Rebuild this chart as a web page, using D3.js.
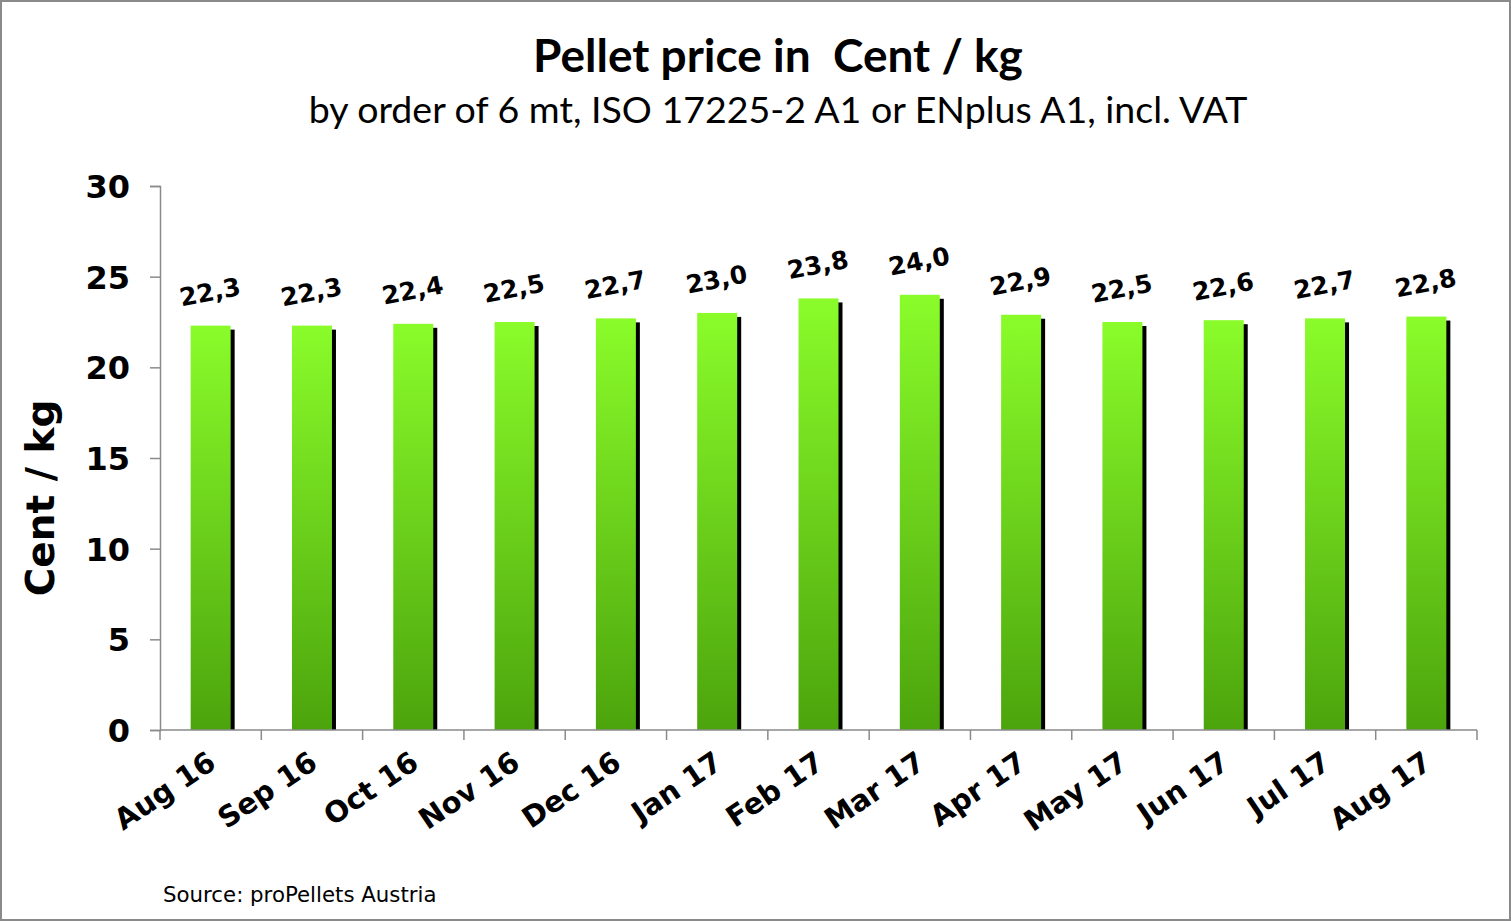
<!DOCTYPE html>
<html>
<head>
<meta charset="utf-8">
<script src="https://cdn.jsdelivr.net/npm/d3@7"></script>
<style>
  body { margin: 0; background: #fff; }
  svg { display: block; }
</style>
</head>
<body>
<main></main>
<script>
var w = 1511;
var h = 921;

// chart data
var months = ["Aug 16", "Sep 16", "Oct 16", "Nov 16", "Dec 16", "Jan 17", "Feb 17",
  "Mar 17", "Apr 17", "May 17", "Jun 17", "Jul 17", "Aug 17"];
var prices = [22.3, 22.3, 22.4, 22.5, 22.7, 23.0, 23.8, 24.0, 22.9, 22.5, 22.6, 22.7, 22.8];
var yTicks = [0, 5, 10, 15, 20, 25, 30];

var plotLeft = 160, plotRight = 1477, plotTop = 186, plotBottom = 730;

var svg = d3.select("main").append("svg").attr("width", w).attr("height", h);

// frame
svg.append("rect")
  .attr("x", 1).attr("y", 1)
  .attr("width", w - 2).attr("height", h - 2)
  .attr("fill", "#fff").attr("stroke", "#8a8a8a").attr("stroke-width", 2);

// gradient for bars
var defs = svg.append("defs");
var grad = defs.append("linearGradient")
  .attr("id", "barGrad").attr("x1", 0).attr("y1", 0).attr("x2", 0).attr("y2", 1);
grad.append("stop").attr("offset", "0%").attr("stop-color", "#8afc2a");
grad.append("stop").attr("offset", "100%").attr("stop-color", "#4ca40c");

// scales
var xScale = d3.scaleBand().domain(months).range([plotLeft, plotRight]);
var yScale = d3.scaleLinear().domain([0, 30]).range([plotBottom, plotTop]);

var barW = 40;

// titles
svg.append("text")
  .attr("x", 778).attr("y", 72)
  .attr("text-anchor", "middle")
  .attr("font-family", "Lato, 'Open Sans', sans-serif")
  .attr("font-weight", "bold")
  .attr("font-size", "46px")
  .attr("fill", "#000")
  .text("Pellet price in\u00a0 Cent / kg");

svg.append("text")
  .attr("x", 778).attr("y", 123)
  .attr("text-anchor", "middle")
  .attr("font-family", "Lato, 'Open Sans', sans-serif")
  .attr("font-size", "37.5px")
  .attr("fill", "#000")
  .text("by order of 6 mt, ISO 17225-2 A1 or ENplus A1, incl. VAT");

// bar shadows
svg.selectAll("rect.shadow")
  .data(prices)
  .enter()
  .append("rect")
  .attr("class", "shadow")
  .attr("x", function (d, i) { return xScale(months[i]) + (xScale.bandwidth() - barW) / 2 + 4; })
  .attr("y", function (d) { return yScale(d) + 4; })
  .attr("width", barW)
  .attr("height", function (d) { return plotBottom - yScale(d) - 4; })
  .attr("fill", "#000");

// bars
svg.selectAll("rect.bar")
  .data(prices)
  .enter()
  .append("rect")
  .attr("class", "bar")
  .attr("x", function (d, i) { return xScale(months[i]) + (xScale.bandwidth() - barW) / 2; })
  .attr("y", function (d) { return yScale(d); })
  .attr("width", barW)
  .attr("height", function (d) { return plotBottom - yScale(d); })
  .attr("fill", "url(#barGrad)");

// value labels (slightly tilted)
svg.selectAll("text.val")
  .data(prices)
  .enter()
  .append("text")
  .attr("class", "val")
  .attr("text-anchor", "middle")
  .attr("font-family", "'DejaVu Sans', Verdana, sans-serif")
  .attr("font-weight", "bold")
  .attr("font-size", "25px")
  .attr("fill", "#000")
  .attr("transform", function (d, i) {
    var cx = xScale(months[i]) + xScale.bandwidth() / 2 + 1;
    var cy = yScale(d) - 25;
    return "translate(" + cx + "," + cy + ") rotate(-11)";
  })
  .text(function (d) { return d.toFixed(1).replace(".", ","); });

// y axis
var yAxis = d3.axisLeft(yScale).tickValues(yTicks).tickSize(10).tickPadding(20);
var gy = svg.append("g")
  .attr("class", "axis y")
  .attr("transform", "translate(" + plotLeft + ",0)")
  .call(yAxis);
gy.select(".domain").attr("stroke", "#8a8a8a").attr("stroke-width", 1.5);
gy.selectAll(".tick line").attr("stroke", "#8a8a8a").attr("stroke-width", 1.5);
gy.selectAll(".tick text")
  .attr("font-family", "'DejaVu Sans', Verdana, sans-serif")
  .attr("font-weight", "bold")
  .attr("font-size", "32px")
  .attr("dy", "0.36em")
  .attr("fill", "#000");

// x axis (ticks at category boundaries)
var gx = svg.append("g").attr("class", "axis x");
gx.append("line")
  .attr("x1", plotLeft).attr("x2", plotRight)
  .attr("y1", plotBottom).attr("y2", plotBottom)
  .attr("stroke", "#8a8a8a").attr("stroke-width", 1.5);
gx.selectAll("line.tk")
  .data(months.concat(["end"]))
  .enter()
  .append("line")
  .attr("class", "tk")
  .attr("x1", function (d, i) { return i < months.length ? xScale(d) : plotRight; })
  .attr("x2", function (d, i) { return i < months.length ? xScale(d) : plotRight; })
  .attr("y1", plotBottom).attr("y2", plotBottom + 10)
  .attr("stroke", "#8a8a8a").attr("stroke-width", 1.5);

gx.selectAll("text.lbl")
  .data(months)
  .enter()
  .append("text")
  .attr("class", "lbl")
  .attr("text-anchor", "end")
  .attr("font-family", "'DejaVu Sans', Verdana, sans-serif")
  .attr("font-weight", "bold")
  .attr("font-size", "29px")
  .attr("fill", "#000")
  .attr("transform", function (d) {
    var cx = xScale(d) + xScale.bandwidth() / 2 - 5;
    return "translate(" + cx + "," + (plotBottom + 19) + ") rotate(-34)";
  })
  .attr("dy", "0.75em")
  .text(function (d) { return d; });

// y-axis title
svg.append("text")
  .attr("transform", "translate(54,498) rotate(-90)")
  .attr("text-anchor", "middle")
  .attr("font-family", "'DejaVu Sans', Verdana, sans-serif")
  .attr("font-weight", "bold")
  .attr("font-size", "39px")
  .attr("fill", "#000")
  .text("Cent / kg");

// source
svg.append("text")
  .attr("x", 163).attr("y", 902)
  .attr("font-family", "'DejaVu Sans', Verdana, sans-serif")
  .attr("font-size", "21.3px")
  .attr("fill", "#000")
  .text("Source: proPellets Austria");
</script>
</body>
</html>
